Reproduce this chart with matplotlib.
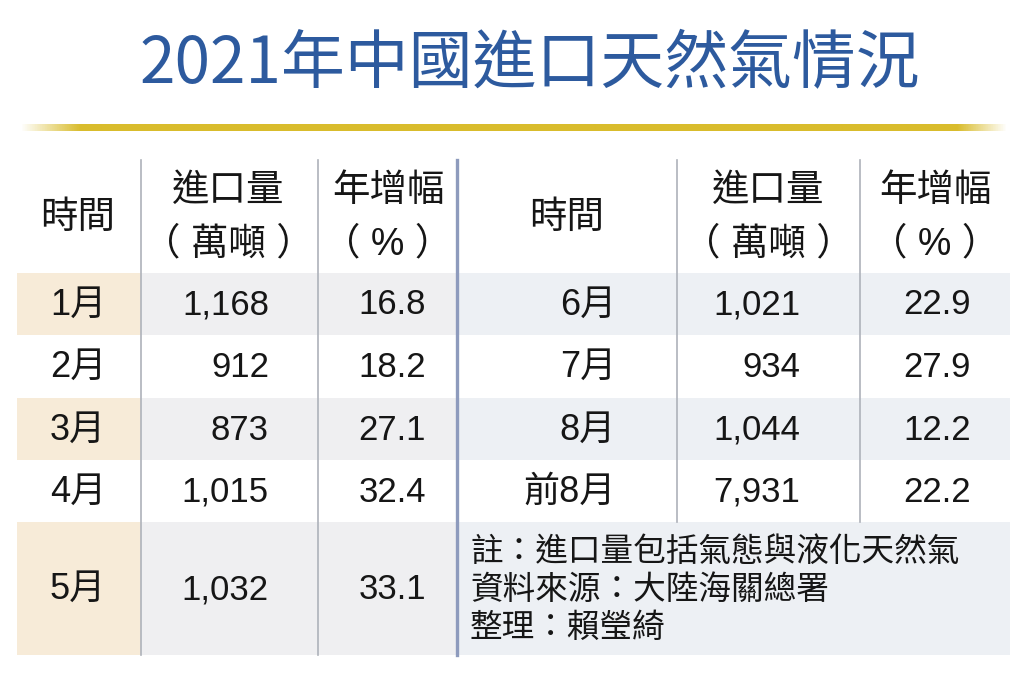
import matplotlib
matplotlib.use("Agg")
import matplotlib.pyplot as plt
import numpy as np
from matplotlib.patches import Rectangle

# ---------------- data ----------------
title = "2021年中國進口天然氣情況"
header_time = "時間"
header_imp = ["進口量", "（ 萬噸 ）"]
header_growth = ["年增幅", "（ % ）"]

left_months = ["1月", "2月", "3月", "4月", "5月"]
left_imports = [1168, 912, 873, 1015, 1032]
left_growth = [16.8, 18.2, 27.1, 32.4, 33.1]

right_months = ["6月", "7月", "8月", "前8月"]
right_imports = [1021, 934, 1044, 7931]
right_growth = [22.9, 27.9, 12.2, 22.2]

notes = ["註：進口量包括氣態與液化天然氣",
         "資料來源：大陸海關總署",
         "整理：賴瑩綺"]

# ---------------- layout ----------------
W, H = 1024, 687
FAM = ["Liberation Sans", "Noto Sans CJK TC", "DejaVu Sans"]
TXT = "#161616"
row_edges = [273, 335, 398, 460, 522, 655]
header_top = 160
shaded = [True, False, True, False, True]

fig = plt.figure(figsize=(W / 100, H / 100), dpi=100)
ax = fig.add_axes([0, 0, 1, 1])
ax.set_xlim(0, W)
ax.set_ylim(H, 0)
ax.axis("off")

# title
ax.text(530, 65, title, ha="center", va="center", fontsize=46,
        color="#2d5a9e", family=["Noto Sans CJK TC", "DejaVu Sans"])

# gold rule with faded ends
n = 400
xs = np.linspace(0, 1, n)
alpha = np.clip(np.minimum(xs / 0.06, (1 - xs) / 0.05), 0, 1)
grad = np.zeros((1, n, 4))
grad[..., 0] = 0xd9 / 255
grad[..., 1] = 0xbc / 255
grad[..., 2] = 0x2c / 255
grad[..., 3] = alpha
ax.imshow(grad, extent=[20, 1008, 131, 124], aspect="auto", zorder=2)

# shading
peach = "#f7ebd8"
grey = "#efeff1"
blueg = "#edf0f4"
for i, sh in enumerate(shaded):
    y0, y1 = row_edges[i], row_edges[i + 1]
    if sh:
        ax.add_patch(Rectangle((17, y0), 141 - 17, y1 - y0, color=peach, lw=0, zorder=1))
        ax.add_patch(Rectangle((141, y0), 457 - 141, y1 - y0, color=grey, lw=0, zorder=1))
        if i < 4:
            ax.add_patch(Rectangle((459, y0), 1010 - 459, y1 - y0, color=blueg, lw=0, zorder=1))
# note box
ax.add_patch(Rectangle((459, row_edges[4]), 1010 - 459, row_edges[5] - row_edges[4],
                       color=blueg, lw=0, zorder=1))

# vertical separators
lc = "#aeb2ba"
for x in (141, 318):
    ax.plot([x, x], [header_top, row_edges[5]], color=lc, lw=1.2, zorder=3)
for x in (677, 860):
    ax.plot([x, x], [header_top, row_edges[4]], color=lc, lw=1.2, zorder=3)
ax.plot([457, 457], [header_top, row_edges[5]], color="#8e9bbd", lw=2.4, zorder=3)

# headers
hs = 27
for cx in (78, 567):
    ax.text(cx, 218, header_time, ha="center", va="center", fontsize=hs, color=TXT, family=FAM)
for cx in (228, 768):
    ax.text(cx, 191, header_imp[0], ha="center", va="center", fontsize=hs, color=TXT, family=FAM)
    ax.text(cx, 244, header_imp[1], ha="center", va="center", fontsize=hs, color=TXT, family=FAM)
for cx in (388, 935):
    ax.text(cx, 191, header_growth[0], ha="center", va="center", fontsize=hs, color=TXT, family=FAM)
    ax.text(cx, 244, header_growth[1], ha="center", va="center", fontsize=hs, color=TXT, family=FAM)

# body rows
ns = 25
for i in range(len(left_months)):
    cy = (row_edges[i] + row_edges[i + 1]) / 2 + 1
    ax.text(78, cy, left_months[i], ha="center", va="center", fontsize=26, color=TXT, family=FAM)
    ax.text(269, cy, f"{left_imports[i]:,}", ha="right", va="center", fontsize=ns, color=TXT, family=FAM)
    ax.text(426, cy, f"{left_growth[i]:.1f}", ha="right", va="center", fontsize=ns, color=TXT, family=FAM)

for i in range(len(right_months)):
    cy = (row_edges[i] + row_edges[i + 1]) / 2 + 1
    ax.text(616, cy, right_months[i], ha="right", va="center", fontsize=26, color=TXT, family=FAM)
    ax.text(800, cy, f"{right_imports[i]:,}", ha="right", va="center", fontsize=ns, color=TXT, family=FAM)
    ax.text(971, cy, f"{right_growth[i]:.1f}", ha="right", va="center", fontsize=ns, color=TXT, family=FAM)

# notes
for k, line in enumerate(notes):
    ax.text(470, 552 + 38 * k, line, ha="left", va="center", fontsize=23.5, color=TXT,
            family=["Noto Sans CJK TC", "DejaVu Sans"])

fig.savefig("out.png", dpi=100, facecolor="white")
